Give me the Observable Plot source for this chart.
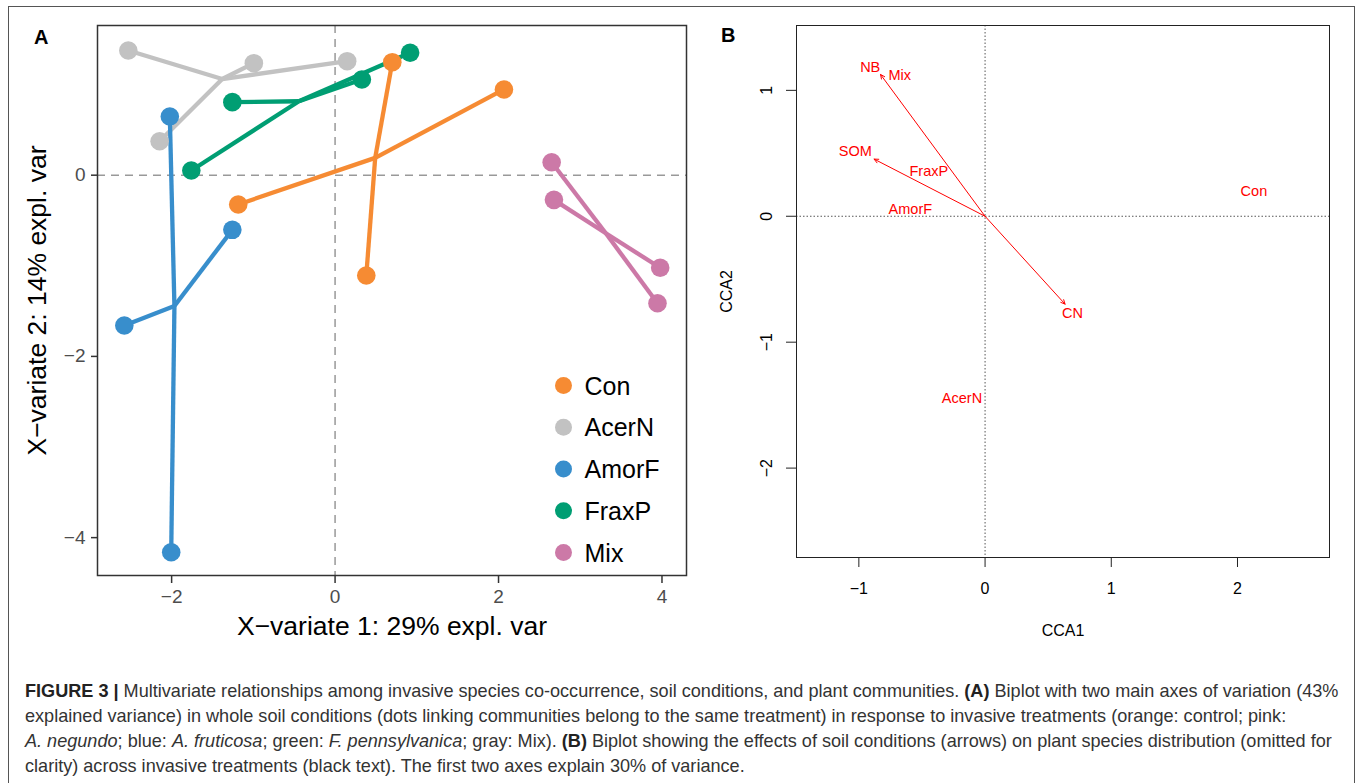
<!DOCTYPE html>
<html><head><meta charset="utf-8">
<script src="https://cdn.jsdelivr.net/npm/d3@7"></script>
<script src="https://cdn.jsdelivr.net/npm/@observablehq/plot@0.6"></script>
<style>
html,body{margin:0;padding:0;background:#fff;}
#wrap{position:relative;width:1358px;height:783px;overflow:hidden;font-family:"Liberation Sans",Arial,sans-serif;}
#panelA{position:absolute;left:0;top:0;}
#panelB{position:absolute;left:690px;top:0;}
.plabel{position:absolute;font-weight:bold;font-size:20px;line-height:20px;color:#000;}
#frame{position:absolute;left:8px;top:6px;width:1345px;height:800px;border:1.5px solid #555;border-bottom:none;pointer-events:none;}
#caption{position:absolute;left:25px;top:679px;font-size:18.1px;line-height:25px;color:#333;white-space:nowrap;}
#caption b{color:#222;}
</style></head>
<body>
<div id="wrap">
  <div id="panelA"></div>
  <div id="panelB"></div>
  <div class="plabel" style="left:34px;top:27px;">A</div>
  <div class="plabel" style="left:721px;top:25px;">B</div>
  <div id="caption"></div>
  <div id="frame"></div>
</div>
<script>
// ---------- Panel A data ----------
const groups = ["Con", "AcerN", "AmorF", "FraxP", "Mix"];
const groupColors = ["#F68B33", "#C2C2C2", "#388ECC", "#009E73", "#CC79A7"];
const sampleGroup = ["Con","Con","Con","Con","AcerN","AcerN","AcerN","AcerN","AmorF","AmorF","AmorF","AmorF","FraxP","FraxP","FraxP","FraxP","Mix","Mix","Mix","Mix"];
const sampleX = [0.70, 2.066, -1.185, 0.382, -2.53, -0.994, 0.148, -2.147, -2.022, -1.257, -2.579, -2.005, 0.918, 0.328, -1.257, -1.759, 2.650, 2.678, 3.978, 3.945];
const sampleY = [1.247, 0.946, -0.323, -1.107, 1.376, 1.236, 1.258, 0.375, 0.648, -0.603, -1.659, -4.161, 1.351, 1.056, 0.806, 0.052, 0.143, -0.272, -1.022, -1.413];
const ticksAx = [-2, 0, 2, 4];
const ticksAy = [-4, -2, 0];
const titleAx = "X\u2212variate 1: 29% expl. var";
const titleAy = "X\u2212variate 2: 14% expl. var";

// ---------- Panel B data ----------
const envVars = ["NB", "SOM", "CN"];
const envCCA1 = [-0.828, -0.879, 0.634];
const envCCA2 = [1.126, 0.454, -0.698];
const labelText = ["NB", "Mix", "SOM", "FraxP", "AmorF", "Con", "CN", "AcerN"];
const labelCCA1 = [-0.91, -0.676, -1.028, -0.446, -0.592, 2.13, 0.692, -0.183];
const labelCCA2 = [1.184, 1.118, 0.515, 0.359, 0.053, 0.198, -0.772, -1.446];
const ticksBx = [-1, 0, 1, 2];
const ticksBy = [-2, -1, 0, 1];
const titleBx = "CCA1";
const titleBy = "CCA2";

// ---------- Caption ----------
const captionLines = [
  "<b>FIGURE 3 |</b> Multivariate relationships among invasive species co-occurrence, soil conditions, and plant communities. <b>(A)</b> Biplot with two main axes of variation (43%",
  "explained variance) in whole soil conditions (dots linking communities belong to the same treatment) in response to invasive treatments (orange: control; pink:",
  "<i>A. negundo</i>; blue: <i>A. fruticosa</i>; green: <i>F. pennsylvanica</i>; gray: Mix). <b>(B)</b> Biplot showing the effects of soil conditions (arrows) on plant species distribution (omitted for",
  "clarity) across invasive treatments (black text). The first two axes explain 30% of variance."
];

const fmt = d3.format("d");
const font = "Liberation Sans, Arial, sans-serif";

// ---------- Panel A ----------
const samples = sampleGroup.map((g, i) => ({group: g, x: sampleX[i], y: sampleY[i]}));
const centroids = new Map(groups.map(g => {
  const s = samples.filter(d => d.group === g);
  return [g, {x: d3.mean(s, d => d.x), y: d3.mean(s, d => d.y)}];
}));

const legendMarks = [];
groups.forEach((g, i) => {
  const dy = 360 + i * 41.75;
  legendMarks.push(Plot.dot([g], {frameAnchor: "top-left", dx: 466, dy, r: 8.5, fill: groupColors[i]}));
  legendMarks.push(Plot.text([g], {frameAnchor: "top-left", dx: 487, dy: dy + 1, text: d => d, textAnchor: "start", lineAnchor: "middle", fontSize: 25, fill: "#000"}));
});

const chartA = Plot.plot({
  width: 690, height: 660,
  marginLeft: 97, marginTop: 25, marginRight: 4, marginBottom: 85,
  style: {fontFamily: font, background: "transparent"},
  x: {domain: [-2.907, 4.30], label: null},
  y: {domain: [-4.418, 1.652], label: null},
  color: {domain: groups, range: groupColors},
  marks: [
    Plot.ruleX([0], {stroke: "#999", strokeWidth: 1.5, strokeDasharray: "8,6"}),
    Plot.ruleY([0], {stroke: "#999", strokeWidth: 1.5, strokeDasharray: "8,6"}),
    Plot.link(samples, {
      x1: d => centroids.get(d.group).x, y1: d => centroids.get(d.group).y,
      x2: "x", y2: "y", stroke: "group", strokeWidth: 4.3
    }),
    Plot.dot(samples, {x: "x", y: "y", fill: "group", r: 9.3}),
    Plot.frame({stroke: "#333", strokeWidth: 1.5}),
    Plot.axisX({ticks: ticksAx, tickFormat: fmt, tickSize: 8, tickPadding: 6, fontSize: 19, stroke: "#333", strokeWidth: 1.5, fill: "#4D4D4D", label: null}),
    Plot.axisY({ticks: ticksAy, tickFormat: fmt, tickSize: 6, tickPadding: 6, fontSize: 19, stroke: "#333", strokeWidth: 1.5, fill: "#4D4D4D", label: null}),
    Plot.text([titleAx], {frameAnchor: "bottom", dy: 51, lineAnchor: "middle", text: d => d, fontSize: 26.5, fill: "#000"}),
    Plot.text([titleAy], {frameAnchor: "left", dx: -60, rotate: -90, textAnchor: "middle", lineAnchor: "middle", text: d => d, fontSize: 26.5, fill: "#000"}),
    ...legendMarks
  ]
});
document.getElementById("panelA").append(chartA);

// ---------- Panel B ----------
const env = envVars.map((v, i) => ({v, x: envCCA1[i], y: envCCA2[i]}));
const labels = labelText.map((t, i) => ({t, x: labelCCA1[i], y: labelCCA2[i]}));

const chartB = Plot.plot({
  width: 668, height: 660,
  marginLeft: 106, marginRight: 29, marginTop: 25, marginBottom: 103,
  style: {fontFamily: font, background: "transparent"},
  x: {domain: [-1.494, 2.729], label: null},
  y: {domain: [-2.71, 1.515], label: null},
  marks: [
    Plot.ruleX([0], {stroke: "#555", strokeWidth: 1, strokeDasharray: "1.5,2"}),
    Plot.ruleY([0], {stroke: "#555", strokeWidth: 1, strokeDasharray: "1.5,2"}),
    Plot.arrow(env, {x1: () => 0, y1: () => 0, x2: "x", y2: "y", stroke: "red", strokeWidth: 1, headLength: 7, headAngle: 50}),
    Plot.text(labels, {x: "x", y: "y", text: "t", fill: "red", fontSize: 14.5}),
    Plot.frame({stroke: "#222", strokeWidth: 1}),
    Plot.axisX({ticks: ticksBx, tickFormat: fmt, tickSize: 10, tickPadding: 15, fontSize: 16, stroke: "#222", fill: "#000", label: null}),
    Plot.axisY({ticks: ticksBy, tickFormat: () => "", tickSize: 10, tickPadding: 0, stroke: "#222", label: null}),
    Plot.text(ticksBy, {y: d => d, frameAnchor: "left", dx: -30, rotate: -90, textAnchor: "middle", lineAnchor: "middle", text: d => fmt(d), fontSize: 16, fill: "#000"}),
    Plot.text([titleBx], {frameAnchor: "bottom", dy: 73, lineAnchor: "middle", text: d => d, fontSize: 16, fill: "#000"}),
    Plot.text([titleBy], {frameAnchor: "left", dx: -70, rotate: -90, textAnchor: "middle", lineAnchor: "middle", text: d => d, fontSize: 16, fill: "#000"})
  ]
});
document.getElementById("panelB").append(chartB);

document.getElementById("caption").innerHTML = captionLines.map(l => `<div>${l}</div>`).join("");
</script>
</body></html>
